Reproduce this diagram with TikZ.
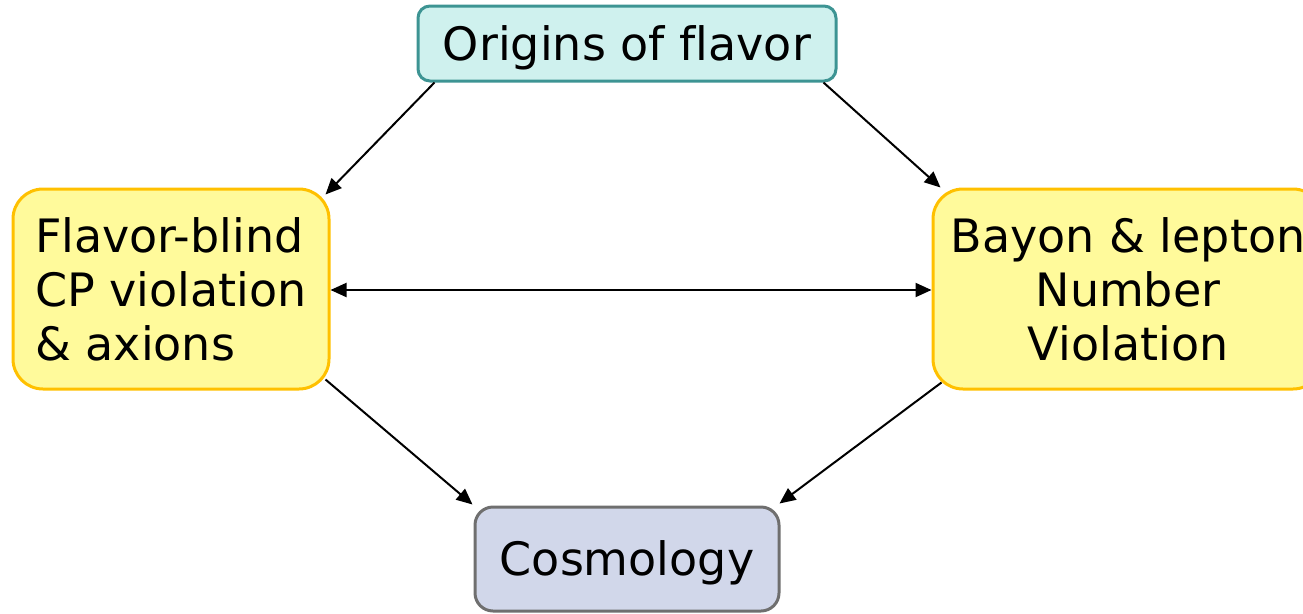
\documentclass[tikz,border=0pt]{standalone}
\usepackage{fontspec}
\setmainfont[Ligatures=NoCommon]{DejaVu Sans}
\usetikzlibrary{arrows.meta}
\definecolor{cyanfill}{HTML}{CFF1EE}
\definecolor{cyanline}{HTML}{3D9493}
\definecolor{yelfill}{HTML}{FFFA9B}
\definecolor{yelline}{HTML}{FFC000}
\definecolor{bluefill}{HTML}{D1D7EA}
\definecolor{grayline}{HTML}{6F6F6F}
\tikzset{
  box/.style={rectangle, line width=3pt, inner sep=0pt,
    font=\fontsize{46}{54}\selectfont},
  conn/.style={line width=2pt, -{Triangle[length=16pt,width=14pt]}},
  dconn/.style={line width=2pt, {Triangle[length=16pt,width=14pt]}-{Triangle[length=16pt,width=14pt]}}
}
\begin{document}
\begin{tikzpicture}[x=1pt,y=-1pt]
\useasboundingbox (0,0) rectangle (1303,613);
\node[box, draw=cyanline, fill=cyanfill, rounded corners=12pt,
  minimum width=418pt, minimum height=75pt] (o) at (627,43.5)
  {\raisebox{-4pt}[\height][\depth]{Origins of f\kern0pt lavor}};
\node[box, draw=yelline, fill=yelfill, rounded corners=30pt,
  minimum width=316pt, minimum height=200pt, align=left] (l) at (171,289)
  {Flavor-blind\\CP violation\\\& axions};
\node[box, draw=yelline, fill=yelfill, rounded corners=30pt,
  minimum width=390pt, minimum height=200pt, align=center] (r) at (1128,289)
  {Bayon \& lepton\\Number\\Violation};
\node[box, draw=grayline, fill=bluefill, rounded corners=18pt,
  minimum width=304pt, minimum height=104pt] (c) at (627,559)
  {\raisebox{-4pt}[\height][\depth]{Cosmology}};
\draw[conn] ([xshift=18pt]o.south west) -- ([xshift=-5pt,yshift=-7pt]l.north east);
\draw[conn] ([xshift=-14pt]o.south east) -- ([xshift=9pt]r.north west);
\draw[dconn] (l.east |- 0,290) -- (r.west |- 0,290);
\draw[conn] ([xshift=-5pt,yshift=11pt]l.south east) -- ([xshift=-1pt,yshift=1pt]c.north west);
\draw[conn] ([xshift=10pt,yshift=8pt]r.south west) -- ([xshift=-1pt,yshift=2pt]c.north east);
\end{tikzpicture}
\end{document}
